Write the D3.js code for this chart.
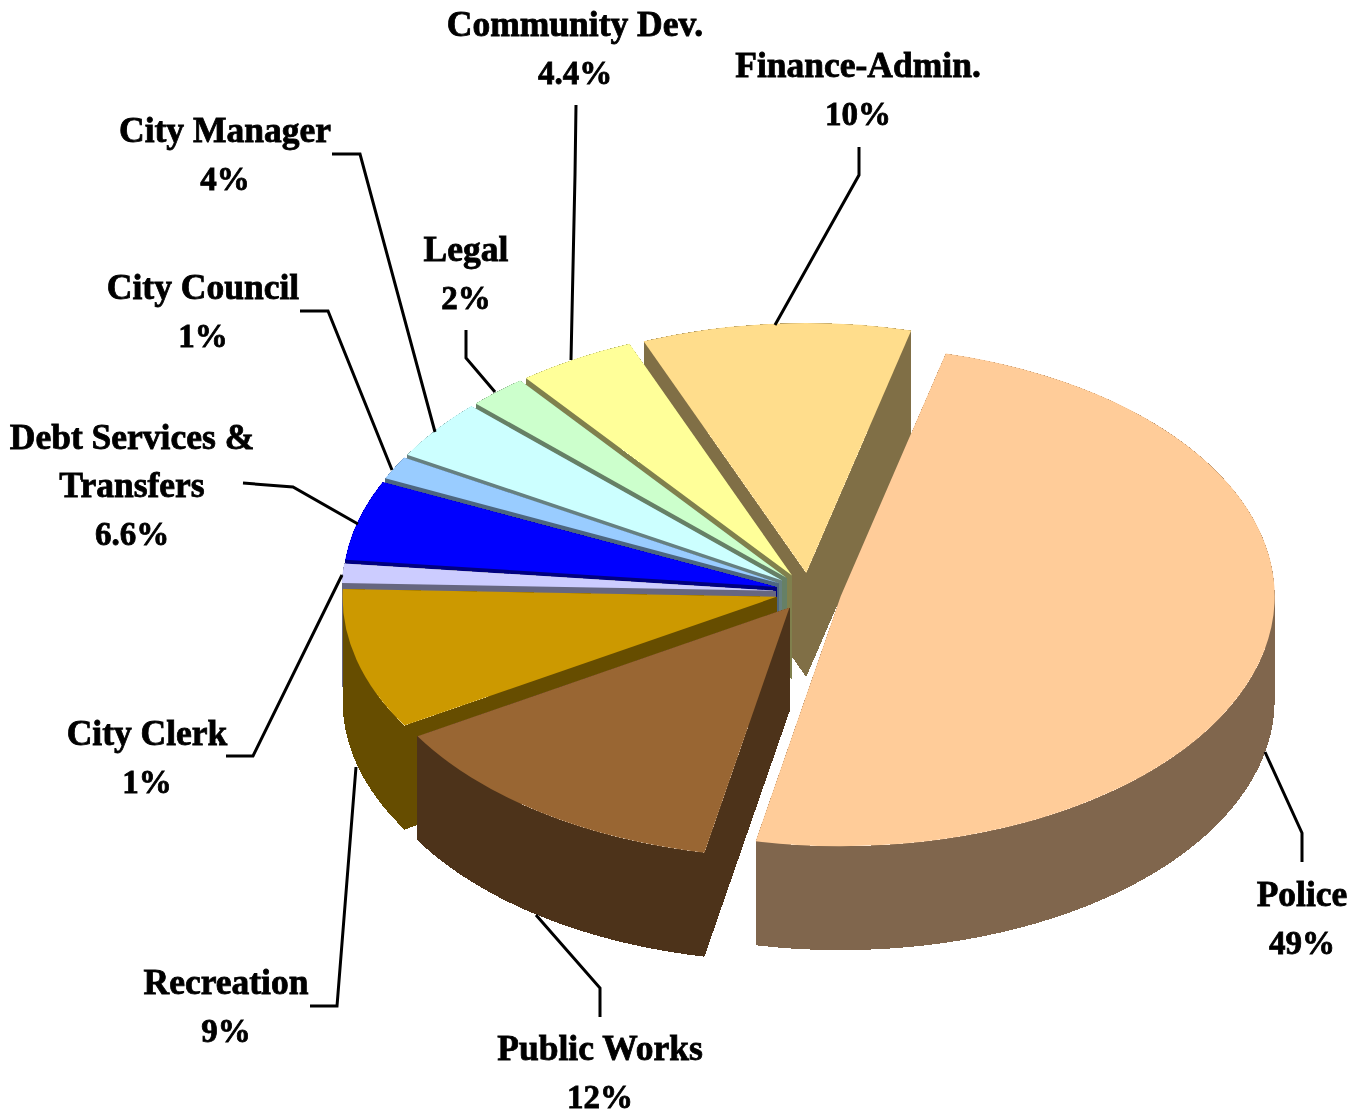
<!DOCTYPE html>
<html>
<head>
<meta charset="utf-8">
<script src="https://cdn.jsdelivr.net/npm/d3@7"></script>
<style>
  html, body { margin: 0; background: #fff; }
  text { font-family: "Liberation Serif", serif; font-weight: bold; fill: #000; stroke: #000; stroke-width: .8px; text-anchor: middle; }
</style>
</head>
<body>
<div id="chart"></div>
<script>
// slices, clockwise from the police wedge
const categories = ['Police', 'Public Works', 'Recreation', 'City Clerk', 'Debt Services & Transfers',
  'City Council', 'City Manager', 'Legal', 'Community Dev.', 'Finance-Admin.'];
// shares as measured off the wedges
const shares = [49.25, 13.25, 9.1, 1.25, 5.15, 1.5, 3.9, 2.2, 4.4, 10.0];
// shares as printed on the labels
const printed = ['49%', '12%', '9%', '1%', '6.6%', '1%', '4%', '2%', '4.4%', '10%'];
const colors = ['#ffcc99', '#996633', '#cc9900', '#ccccff', '#0000ff',
  '#99ccff', '#ccffff', '#ccffcc', '#ffff99', '#ffdd8c'];

// label layout: centre x, first baseline, split title
const labelX = [1302, 600, 226, 147, 132, 203, 225, 466, 575, 858];
const labelY = [906, 1060, 994, 745, 449, 299, 142, 261, 36, 77];
const titles = [['Police'], ['Public Works'], ['Recreation'], ['City Clerk'], ['Debt Services &', 'Transfers'],
  ['City Council'], ['City Manager'], ['Legal'], ['Community Dev.'], ['Finance-Admin.']];
const leaders = [
  [[1302, 862], [1302, 833], [1265, 752]],
  [[600, 1017], [600, 988], [536, 915]],
  [[310, 1006], [337, 1006], [356, 767]],
  [[226, 756], [253, 756], [342, 575]],
  [[243, 483], [293, 487], [358, 524]],
  [[300, 311], [328, 311], [392, 470]],
  [[332, 154], [360, 154], [435, 432]],
  [[466, 330], [466, 358], [495, 392]],
  [[576, 105], [575, 175], [571, 360]],
  [[859, 147], [859, 175], [775, 325]]
];

const width = 1363, height = 1114,
  cx = 808.5, cy = 592, rx = 434, tilt = 0.576, depth = 104, explode = 33,
  lineH = 48, startDeg = 14;

const svg = d3.select('#chart').append('svg').attr('width', width).attr('height', height);

// the reference is a soft enlargement, a touch of blur gets the text close
svg.append('defs').append('filter').attr('id', 'soft')
  .append('feGaussianBlur').attr('stdDeviation', 0.6);

const pie = d3.pie().sort(null)
  .startAngle(startDeg * Math.PI / 180)
  .endAngle(startDeg * Math.PI / 180 + 2 * Math.PI);
const arcs = pie(shares);
const arc = d3.arc().innerRadius(0).outerRadius(rx);

// a wall hanging under a run of points of the top face
const wall = d3.area().x(d => d[0]).y0(d => d[1]).y1(d => d[1] + depth);

// rim angles of a slice, cut where the rim turns back in x (an area over that bend cancels itself out)
function rimRuns(a) {
  const cuts = [a.startAngle, ...[0.5, 1.5, 2.5].map(t => t * Math.PI).filter(t => t > a.startAngle && t < a.endAngle), a.endAngle];
  return d3.pairs(cuts).map(([s, e]) => d3.range(0, 41).map(i => s + (e - s) * i / 40));
}

// drawn from finance round to police so the front pieces cover the back ones
arcs.slice().reverse().forEach(a => {
  const mid = (a.startAngle + a.endAngle) / 2,
    ox = cx + explode * Math.sin(mid),
    oy = cy - explode * Math.cos(mid) * tilt,
    pt = ang => [ox + rx * Math.sin(ang), oy - rx * Math.cos(ang) * tilt],
    top = colors[a.index],
    c = d3.rgb(top),
    side = d3.rgb(c.r / 2, c.g / 2, c.b / 2).formatHex(),
    g = svg.append('g');

  const faces = [[[ox, oy], pt(a.startAngle)], [[ox, oy], pt(a.endAngle)]]
    .concat(rimRuns(a).map(run => run.map(pt)));
  g.selectAll('path.wall').data(faces).join('path')
    .attr('class', 'wall')
    .attr('d', wall)
    .attr('fill', side)
    .attr('shape-rendering', 'crispEdges');

  g.append('path')
    .attr('transform', `translate(${ox},${oy}) scale(1,${tilt})`)
    .attr('d', arc(a))
    .attr('fill', top);
});

const line = d3.line();
svg.append('g').selectAll('path').data(leaders).join('path')
  .attr('d', line).attr('fill', 'none').attr('stroke', '#000').attr('stroke-width', 3);

categories.forEach((name, i) => {
  const rows = titles[i].concat(printed[i]);
  svg.append('text').attr('data-name', name).attr('filter', 'url(#soft)')
    .selectAll('tspan').data(rows).join('tspan')
    .attr('x', labelX[i])
    .attr('y', (d, j) => labelY[i] + j * lineH)
    .style('font-size', (d, j) => j === rows.length - 1 ? '33px' : '35.5px')
    .text(d => d);
});
</script>
</body>
</html>
